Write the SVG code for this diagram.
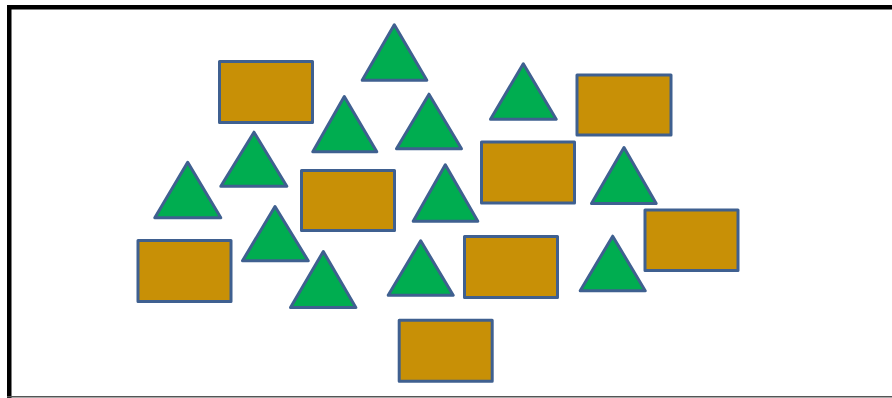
<svg xmlns="http://www.w3.org/2000/svg" width="892" height="398" viewBox="0 0 892 398">
<style>
.rect{fill:#C89006;stroke:#3F6090;stroke-width:3;stroke-linejoin:round}
.tri{fill:#00AD50;stroke:#3F6090;stroke-width:3;stroke-linejoin:round}
</style>
<rect width="892" height="398" fill="#FFFFFF"/>
<g id="frame">
<rect x="7" y="5" width="885" height="4.5" fill="#000000"/>
<rect x="7" y="5" width="4.5" height="393" fill="#000000"/>
<rect x="7" y="396" width="885" height="1.5" fill="#555555"/>
</g>
<g id="connectors"></g>
<g id="r1"><rect class="rect" x="219.5" y="61.5" width="93" height="61"/></g>
<g id="r2"><rect class="rect" x="577" y="75" width="94" height="60"/></g>
<g id="r3"><rect class="rect" x="301.5" y="170.5" width="93" height="60"/></g>
<g id="r4"><rect class="rect" x="481.5" y="142" width="93" height="61"/></g>
<g id="r5"><rect class="rect" x="645" y="210" width="93" height="60.5"/></g>
<g id="r6"><rect class="rect" x="138" y="240.5" width="93" height="61"/></g>
<g id="r7"><rect class="rect" x="464.5" y="236.5" width="93" height="61"/></g>
<g id="r8"><rect class="rect" x="399.2" y="320.2" width="93" height="61"/></g>
<g id="t1"><polygon class="tri" points="394.3,24.8 426.8,80.2 362.2,80.2"/></g>
<g id="t2"><polygon class="tri" points="523.3,63.8 556.2,119.2 490.5,119.2"/></g>
<g id="t3"><polygon class="tri" points="344.3,96.5 376.8,151.8 312.8,151.8"/></g>
<g id="t4"><polygon class="tri" points="429,94.2 461.5,148.8 396.5,148.8"/></g>
<g id="t5"><polygon class="tri" points="254,132.2 286.8,186.2 220.8,186.2"/></g>
<g id="t6"><polygon class="tri" points="187.7,162.2 220.8,217.8 154.8,217.8"/></g>
<g id="t7"><polygon class="tri" points="445.3,164.8 477.8,221.2 413.2,221.2"/></g>
<g id="t8"><polygon class="tri" points="624,147.5 656.2,203.5 591.5,203.5"/></g>
<g id="t9"><polygon class="tri" points="275,206.5 308.2,260.8 242.5,260.8"/></g>
<g id="t10"><polygon class="tri" points="323.3,251.5 355.8,307.5 290.5,307.5"/></g>
<g id="t11"><polygon class="tri" points="420.7,240.8 453.2,295.2 388.2,295.2"/></g>
<g id="t12"><polygon class="tri" points="612.7,236.2 645.2,290.8 580.2,290.8"/></g>
</svg>
